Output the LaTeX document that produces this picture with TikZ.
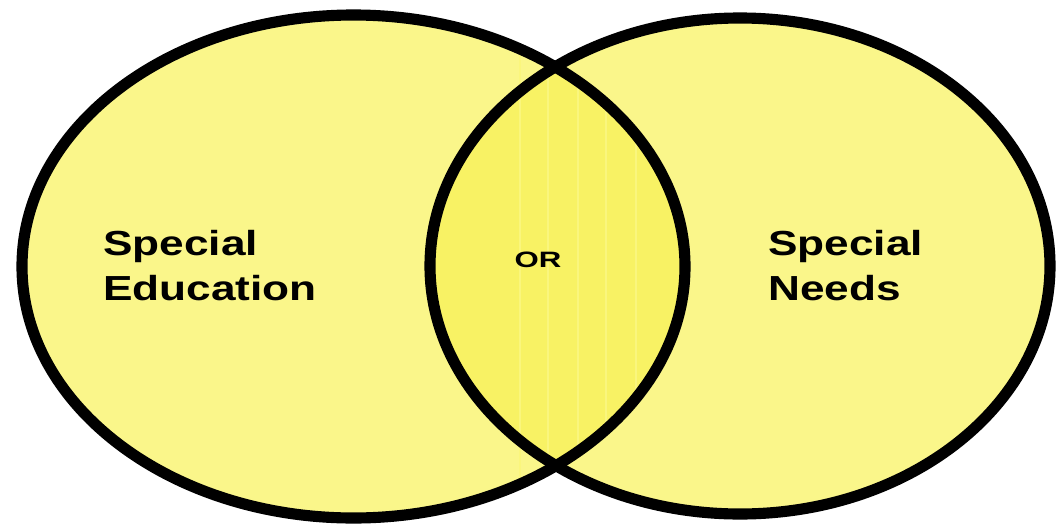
\documentclass[tikz,border=0pt]{standalone}
\usepackage{fontspec}
\setmainfont{Liberation Sans}
\usepackage{xcolor}
\usetikzlibrary{positioning}
\definecolor{vennfill}{RGB}{250,246,138}
\definecolor{lensfill}{RGB}{248,242,100}
\definecolor{lensstripe}{RGB}{250,246,125}

\begin{document}
\begin{tikzpicture}[x=0.03cm,y=-0.03cm,
  rim/.style={line width=9.5pt,draw=black},
  lbl/.style={font=\bfseries\fontsize{29.7}{38.3}\selectfont,align=left,inner sep=0pt,anchor=north west,xscale=1.27},
  mid/.style={font=\bfseries\fontsize{19}{22}\selectfont,inner sep=0pt,xscale=1.4}]
  \useasboundingbox[fill=white] (0,0) rectangle (1059,529);
  % the two sets
  \fill[vennfill] (353.5,266.5) ellipse [x radius=331.5,y radius=251.5];
  \fill[vennfill] (740,266) ellipse [x radius=310,y radius=248];
  % overlap
  \begin{scope}
    \clip (353.5,266.5) ellipse [x radius=331.5,y radius=251.5];
    \fill[lensfill] (740,266) ellipse [x radius=310,y radius=248];
    \foreach \sx in {520,548,578,606,636}
      \draw[lensstripe,line width=2.5pt] (\sx,40) -- (\sx,490);
  \end{scope}
  \draw[rim] (353.5,266.5) ellipse [x radius=331.5,y radius=251.5];
  \draw[rim] (740,266) ellipse [x radius=310,y radius=248];
  % labels
  \node[lbl] (edu) at (103,230) {Special\\Education};
  \node[lbl] (needs) at (768,230) {Special\\Needs};
  \node[mid] (or) at (538,260) {OR};
\end{tikzpicture}
\end{document}
